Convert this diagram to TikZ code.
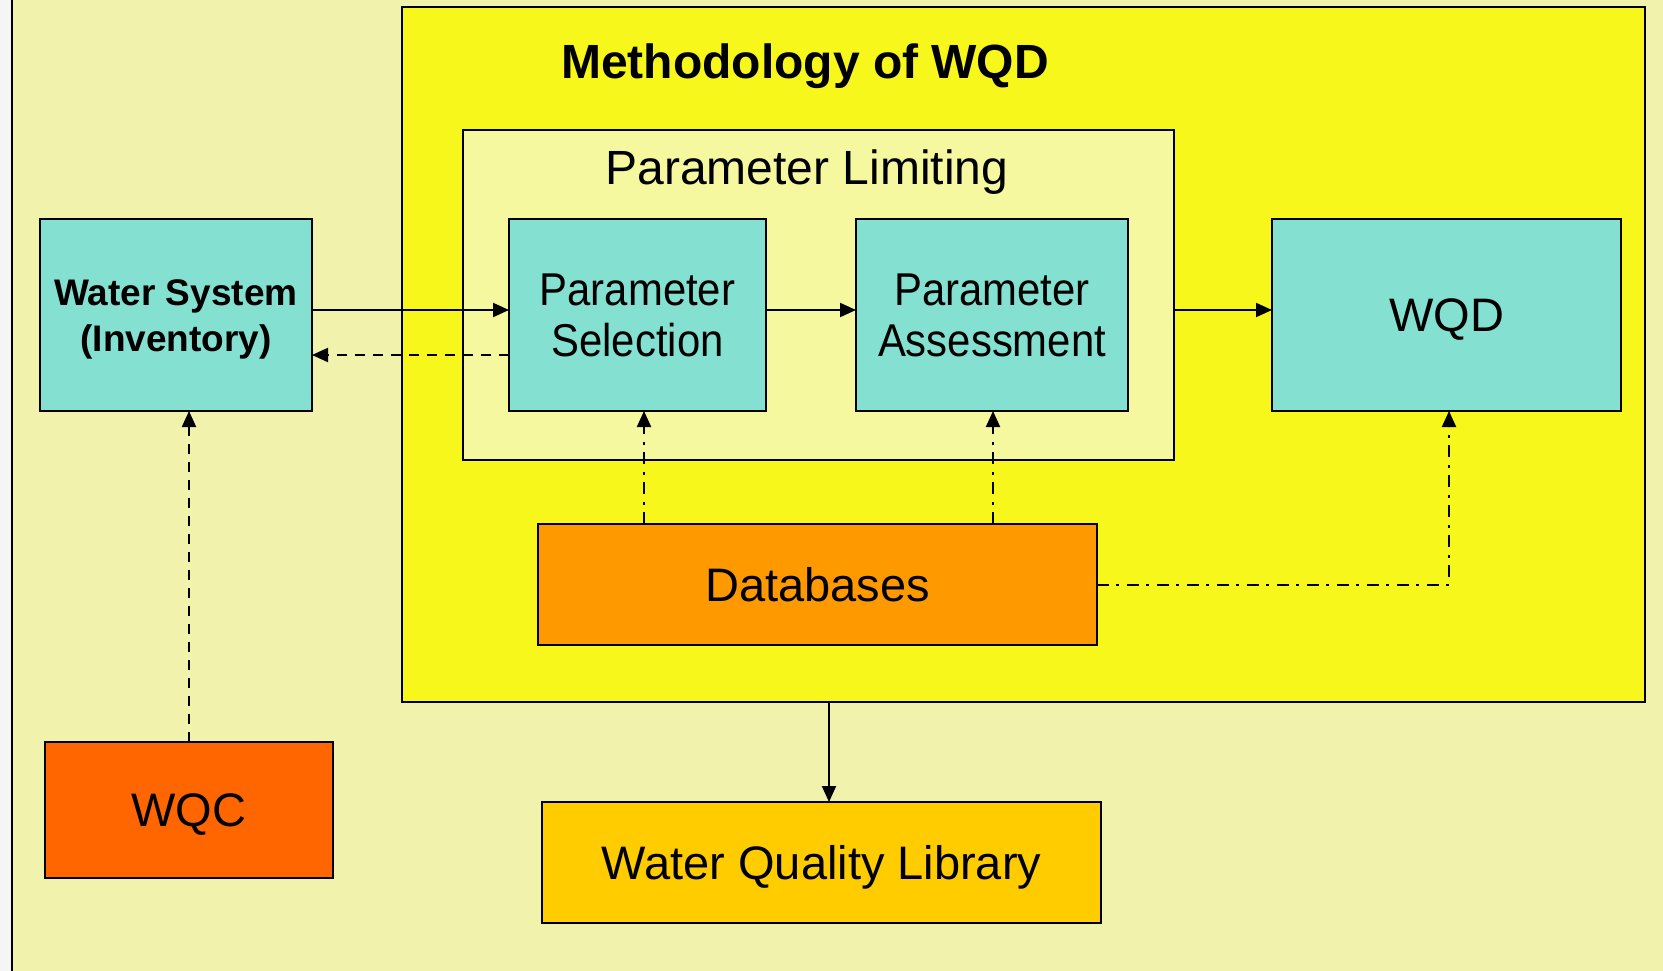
\documentclass[tikz,border=0pt]{standalone}
\usepackage{fontspec}
\setmainfont{Liberation Sans}
\newfontfamily\condsans[FakeStretch=0.91]{Liberation Sans}
\usetikzlibrary{arrows.meta}

\definecolor{pagebg}{RGB}{241,242,171}
\definecolor{methbg}{RGB}{247,247,27}
\definecolor{limitbg}{RGB}{246,248,160}
\definecolor{procbg}{RGB}{132,224,208}
\definecolor{dbbg}{RGB}{255,153,0}
\definecolor{wqcbg}{RGB}{255,102,0}
\definecolor{libbg}{RGB}{255,204,0}

\tikzset{
  frame/.style={draw=black, line width=1.8pt, inner sep=0pt, outer sep=0pt},
  procbox/.style={frame, fill=procbg, align=center},
  % single-line labels: centre the capitals in the box
  bigtext/.style={font=\fontsize{47}{54}\selectfont, text height=33.6pt, text depth=0pt},
  condtext/.style={font=\condsans\fontsize{46}{51}\selectfont},
  link/.style={line width=2pt, -{Triangle[length=16pt,width=14pt]}},
  backlink/.style={link, dash pattern=on 10pt off 8pt},
  dblink/.style={link, dash pattern=on 12pt off 7pt on 3pt off 8pt},
}

\begin{document}
\begin{tikzpicture}[x=1pt, y=-1pt]
  \useasboundingbox (0,0) rectangle (1663,971);

  % page background with left margin strip
  \fill[pagebg] (0,0) rectangle (1663,971);
  \fill[black!4] (0,0) rectangle (12,971);
  \draw[line width=1.8pt] (12,0) -- (12,971);

  % methodology frame and its inner group
  \node[frame, fill=methbg, minimum width=1243pt, minimum height=695pt] (meth) at (1023.5,354.5) {};
  \node[anchor=base, font=\bfseries\fontsize{48}{54}\selectfont] (title) at (805,79) {Methodology of WQD};
  \node[frame, fill=limitbg, minimum width=711pt, minimum height=330pt] (pl) at (818.5,295) {};
  \node[anchor=base, font=\fontsize{48}{54}\selectfont] (pltitle) at (807,184) {Parameter Limiting};

  % process boxes
  \node[procbox, minimum width=272pt, minimum height=192pt, font=\bfseries\fontsize{37}{46}\selectfont,
        text height=73.5pt, text depth=0pt] (ws) at (176,315) {Water System\\(Inventory)};
  \node[procbox, minimum width=257pt, minimum height=192pt, condtext] (ps) at (637.5,315) {Parameter\\Selection};
  \node[procbox, minimum width=272pt, minimum height=192pt, condtext] (pa) at (992,315) {Parameter\\Assessment};
  \node[procbox, minimum width=349pt, minimum height=192pt, bigtext] (wqd) at (1446.5,315) {WQD};

  \node[frame, fill=dbbg, minimum width=559pt, minimum height=121pt, bigtext] (db) at (817.5,584.5) {Databases};
  \node[frame, fill=wqcbg, minimum width=288pt, minimum height=136pt, bigtext] (wqc) at (189,810) {WQC};
  \node[frame, fill=libbg, minimum width=559pt, minimum height=121pt, bigtext] (wql) at (821.5,862.5) {Water Quality Library};

  % main flow
  \draw[link] ([yshift=5pt]ws.east) -- ([yshift=5pt]ps.west);
  \draw[backlink] ([yshift=-40pt]ps.west) -- ([yshift=-40pt]ws.east);
  \draw[link] ([yshift=5pt]ps.east) -- ([yshift=5pt]pa.west);
  \draw[link] ([yshift=5pt]wqd.west -| pl.east) -- ([yshift=5pt]wqd.west);
  \draw[link] ([xshift=7.5pt]wql.north |- meth.south) -- ([xshift=7.5pt]wql.north);

  % inputs
  \draw[backlink] (wqc.north) -- (wqc.north |- ws.south);
  \draw[dblink] ([xshift=6.5pt]ps.south |- db.north) -- ([xshift=6.5pt]ps.south);
  \draw[dblink] ([xshift=1pt]pa.south |- db.north) -- ([xshift=1pt]pa.south);
  \draw[dblink] (db.east) -| ([xshift=2.5pt]wqd.south);
\end{tikzpicture}
\end{document}
